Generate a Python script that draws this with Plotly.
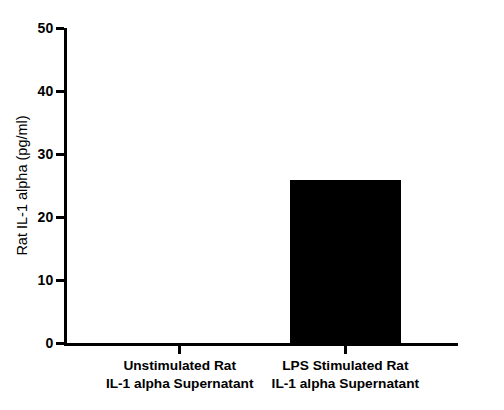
import plotly.graph_objects as go

# Rat IL-1 alpha, unstimulated vs LPS stimulated supernatant
groups = ['Unstimulated Rat<br>IL-1 alpha Supernatant', 'LPS Stimulated Rat<br>IL-1 alpha Supernatant']
il1a = [0, 25.9]
y_ticks = [0, 10, 20, 30, 40, 50]

fig = go.Figure(data=[
    go.Bar(x=[0, 1], y=il1a, width=0.667, marker=dict(color='black', line_width=0))
])

# page body has an 8px margin, so the figure is sized to fit the window
fig.update_layout(
    width=496, height=402,
    margin=dict(l=55, r=46, t=20, b=67),
    plot_bgcolor='white', paper_bgcolor='white',
    font=dict(family='Arial, Liberation Sans', color='black', size=12),
    showlegend=False,
    bargap=0,
)
fig.update_xaxes(
    range=[-0.68, 1.68],
    tickmode='array', tickvals=[0, 1], ticktext=groups,
    tickfont=dict(size=13.7, weight='bold'),
    showline=True, linecolor='black', linewidth=3,
    ticks='outside', ticklen=8, tickwidth=3, tickcolor='black',
    showgrid=False, zeroline=False,
)
fig.update_yaxes(
    range=[0, 50],
    tickmode='array', tickvals=y_ticks,
    tickfont=dict(size=14, weight='bold'),
    title=dict(text='Rat IL-1 alpha (pg/ml)', font=dict(size=14.5), standoff=7),
    showline=True, linecolor='black', linewidth=3,
    ticks='outside', ticklen=8, tickwidth=3, tickcolor='black',
    showgrid=False, zeroline=False,
)

fig.write_html("out.html")
